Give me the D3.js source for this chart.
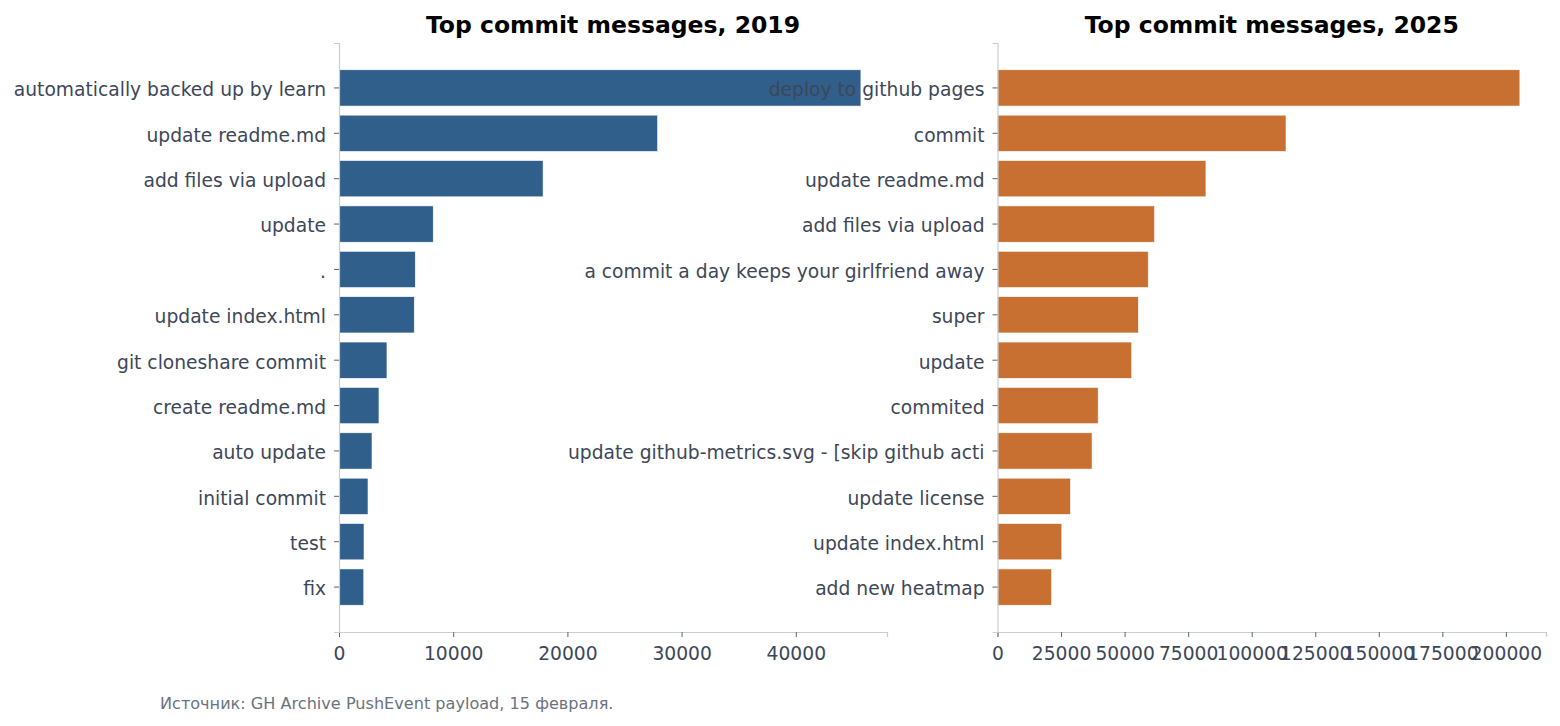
<!DOCTYPE html>
<html>
<head>
<meta charset="utf-8">
<script src="https://cdn.jsdelivr.net/npm/d3@7/dist/d3.min.js"></script>
<style>
  body { margin: 0; background: #fff; }
  svg { display: block; font-family: "DejaVu Sans", sans-serif; }
</style>
</head>
<body>
<div id="chart"></div>
<script>
var WIDTH = 1560;
var HEIGHT = 726;

// 2019 data
var labels2019 = ["automatically backed up by learn", "update readme.md", "add files via upload", "update", ".",
    "update index.html", "git cloneshare commit", "create readme.md", "auto update", "initial commit", "test", "fix"];
var counts2019 = [45700, 27900, 17870, 8250, 6680, 6590, 4200, 3500, 2890, 2540, 2190, 2170];

// 2025 data
var labels2025 = ["deploy to github pages", "commit", "update readme.md", "add files via upload",
    "a commit a day keeps your girlfriend away", "super", "update", "commited",
    "update github-metrics.svg - [skip github acti", "update license", "update index.html", "add new heatmap"];
var counts2025 = [205500, 113500, 82000, 61800, 59300, 55400, 52800, 39600, 37200, 28700, 25300, 21300];

var ticks2019 = [0, 10000, 20000, 30000, 40000];
var ticks2025 = [0, 25000, 50000, 75000, 100000, 125000, 150000, 175000, 200000];

var svg = d3.select("#chart").append("svg")
    .attr("width", WIDTH)
    .attr("height", HEIGHT);

var TOP = 43, BOTTOM = 632;
var FONT = "DejaVu Sans, sans-serif";

function panel(opts) {
    var rows = opts.labels.map(function(l, i) { return {label: l, value: opts.values[i]}; });

    var x = d3.scaleLinear()
        .domain([0, d3.max(opts.values) * 1.05])
        .range([opts.left, opts.right]);

    var y = d3.scaleBand()
        .domain(opts.labels)
        .range([TOP, BOTTOM])
        .paddingInner(0.2)
        .paddingOuter(0.59);

    var g = svg.append("g");

    g.append("g").selectAll("rect")
        .data(rows)
        .enter().append("rect")
        .attr("x", x(0))
        .attr("y", function(d) { return y(d.label); })
        .attr("width", function(d) { return x(d.value) - x(0); })
        .attr("height", y.bandwidth())
        .attr("fill", opts.color)
        .attr("stroke", "#ffffff")
        .attr("stroke-width", 0.6);

    // x axis
    var xa = g.append("g")
        .attr("transform", "translate(0," + BOTTOM + ")")
        .call(d3.axisBottom(x).tickValues(opts.ticks).tickFormat(d3.format("d")).tickSizeOuter(0).tickSize(5).tickPadding(10));
    xa.attr("font-family", FONT);
    xa.select(".domain").attr("stroke", "#c9cdd5").attr("stroke-width", 1.2);
    xa.selectAll(".tick line").attr("stroke", "#5b6472");
    xa.selectAll(".tick text").attr("fill", "#3d4758").style("font-size", "18.7px");

    // y axis
    var ya = g.append("g")
        .attr("transform", "translate(" + opts.left + ",0)")
        .call(d3.axisLeft(y).tickSizeOuter(0).tickSize(5).tickPadding(8));
    ya.attr("font-family", FONT);
    ya.select(".domain").attr("stroke", "#c9cdd5").attr("stroke-width", 1.2);
    ya.selectAll(".tick line").attr("stroke", "#5b6472");
    ya.selectAll(".tick text").attr("fill", "#3d4758").attr("dy", "0.45em").style("font-size", "18.7px");

    g.append("text")
        .attr("x", (opts.left + opts.right) / 2)
        .attr("y", 33)
        .attr("text-anchor", "middle")
        .style("font-size", "23.5px")
        .style("font-weight", "bold")
        .attr("fill", "#000")
        .text(opts.title);
}

panel({labels: labels2019, values: counts2019, ticks: ticks2019, left: 339, right: 887,
    color: "#2f5f8a", title: "Top commit messages, 2019"});
panel({labels: labels2025, values: counts2025, ticks: ticks2025, left: 997.5, right: 1546,
    color: "#c87032", title: "Top commit messages, 2025"});

svg.append("text")
    .attr("x", 160)
    .attr("y", 709)
    .style("font-size", "16.1px")
    .attr("fill", "#6b7280")
    .text("Источник: GH Archive PushEvent payload, 15 февраля.");
</script>
</body>
</html>
